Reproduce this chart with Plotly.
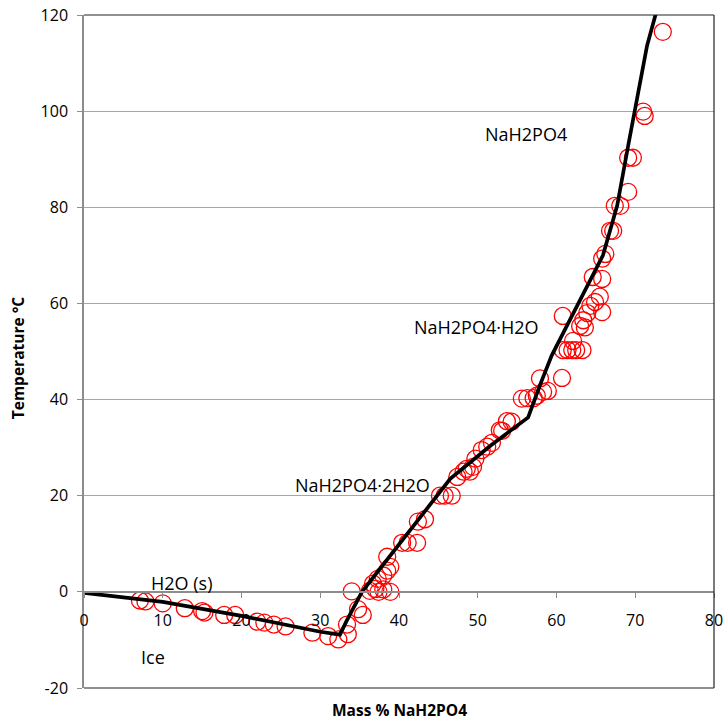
import plotly.graph_objects as go

# Measured solubility points (mass % NaH2PO4, temperature in °C)
mass_pct = [
    7.1, 7.8, 10.0, 12.8, 15.0, 15.3, 17.8, 19.2, 22.0, 22.9, 24.1, 25.6,
    29.0, 31.0, 32.3, 33.5, 33.4, 34.0, 34.8, 35.4,
    36.3, 37.0, 37.4, 38.0, 38.9, 36.7, 37.3, 38.0, 38.5, 38.9, 38.5,
    40.4, 41.1, 42.3, 42.4, 43.3,
    45.2, 45.8, 46.7, 47.4, 48.2, 48.6, 49.0, 49.4, 49.7,
    50.5, 51.2, 51.8, 52.8, 53.1, 53.7, 54.3,
    55.6, 56.3, 57.1, 57.5, 58.3, 58.9, 57.9, 60.7,
    60.8, 60.8, 61.4, 62.0, 62.5, 63.3, 62.1,
    63.0, 63.6, 63.4, 63.9, 64.3, 64.9, 65.8, 65.5,
    64.6, 65.8, 65.8, 66.2, 66.8, 67.2, 67.4, 68.1, 69.1,
    69.1, 69.7, 71.0, 71.2, 73.5,
]
temp_c = [
    -1.8, -2.0, -2.4, -3.4, -4.0, -4.3, -4.8, -4.8, -6.2, -6.4, -6.8, -7.2,
    -8.5, -9.2, -9.9, -8.8, -6.8, 0.1, -3.6, -4.8,
    0.2, 0.6, 0.0, 0.5, 0.0, 1.7, 2.7, 3.4, 4.4, 5.2, 7.3,
    10.2, 10.2, 10.2, 14.6, 15.1,
    20.0, 20.0, 20.0, 23.9, 25.0, 25.6, 25.0, 26.0, 27.7,
    29.5, 30.2, 31.0, 33.6, 33.5, 35.5, 35.4,
    40.2, 40.3, 40.3, 40.8, 41.6, 41.8, 44.4, 44.5,
    57.4, 50.3, 50.3, 50.3, 50.3, 50.3, 52.2,
    55.3, 55.0, 56.5, 58.0, 59.5, 60.3, 58.2, 61.4,
    65.5, 65.1, 69.3, 70.3, 75.1, 75.1, 80.3, 80.3, 83.2,
    90.3, 90.3, 99.9, 99.0, 116.5,
]

# Fitted phase boundary (liquidus)
curve_x = [0, 10, 20, 30, 32.5, 33.3, 35.3, 40.0, 46.5, 51.6, 56.4,
           57.9, 59.4, 65.9, 67.7, 69.1, 70.2, 71.5, 72.9]
curve_y = [-0.2, -2.1, -5.0, -8.3, -8.9, -6.2, 0.0, 9.9, 23.5, 30.4, 36.3,
           43.0, 49.2, 70.0, 80.3, 92.8, 102.6, 113.6, 122.0]

# Phase region labels
phase_labels = ["NaH2PO4", "NaH2PO4·H2O", "NaH2PO4·2H2O", "H2O (s)", "Ice"]
label_x = [56.1, 49.9, 35.4, 12.4, 8.8]
label_y = [95.2, 55.1, 22.3, 1.9, -13.5]

x_ticks = [0, 10, 20, 30, 40, 50, 60, 70, 80]
y_ticks = [-20, 0, 20, 40, 60, 80, 100, 120]
y_tick_text = ["-20", "0", "20", "40", "60", "80", "100", "120"]

FONT = "'Open Sans', Calibri, sans-serif"

fig = go.Figure()

fig.add_trace(go.Scatter(
    x=mass_pct, y=temp_c, mode="markers",
    marker=dict(symbol="circle-open", size=17, color="#ff0000",
                line=dict(width=1.3, color="#ff0000")),
    showlegend=False, hoverinfo="x+y",
))

fig.add_trace(go.Scatter(
    x=curve_x, y=curve_y, mode="lines",
    line=dict(color="#000000", width=3.7),
    showlegend=False,
))

for txt, lx, ly in zip(phase_labels, label_x, label_y):
    fig.add_annotation(x=lx, y=ly, xref="x", yref="y", text=txt,
                       showarrow=False, font=dict(family=FONT, size=18, color="#000000"))

# Axis titles
fig.add_annotation(x=0.5, y=0, xref="paper", yref="paper", yshift=-22,
                   yanchor="middle", text="<b>Mass % NaH2PO4</b>", showarrow=False,
                   font=dict(family=FONT, size=15.5, color="#000000"))
fig.add_annotation(x=0, y=0.49, xref="paper", yref="paper", xshift=-66,
                   xanchor="center", text="<b>Temperature °C</b>", showarrow=False,
                   textangle=-90,
                   font=dict(family=FONT, size=15.5, color="#000000"))

# Plot-area frame: top, right, bottom
for x0, y0, x1, y1 in [(0, 1, 1, 1), (1, 0, 1, 1), (0, 0, 1, 0)]:
    fig.add_shape(type="line", xref="paper", yref="paper", x0=x0, y0=y0, x1=x1, y1=y1,
                  line=dict(color="#222222", width=1.2), layer="above")

fig.update_layout(
    width=727, height=721,
    margin=dict(l=84, r=13, t=15, b=33),
    paper_bgcolor="white", plot_bgcolor="white",
    font=dict(family=FONT, size=15, color="#000000"),
    xaxis=dict(
        range=[0, 80], tickvals=x_ticks, anchor="free", automargin=False,
        position=20 / 140, showline=True, linecolor="#8c8c8c", linewidth=1.5,
        ticks="outside", ticklen=5, tickcolor="#8c8c8c", tickwidth=1.3,
        ticklabelstandoff=9,
        showgrid=False, zeroline=False, tickfont=dict(size=16),
    ),
    yaxis=dict(
        range=[-20, 120], tickvals=y_ticks, ticktext=y_tick_text, automargin=False,
        showline=True, linecolor="#8c8c8c", linewidth=1.5,
        ticks="outside", ticklen=5, tickcolor="#8c8c8c", tickwidth=1.3,
        ticklabelstandoff=6,
        showgrid=True, gridcolor="#a6a6a6", gridwidth=1.3,
        zeroline=False, tickfont=dict(size=16),
    ),
)

fig.write_html("out.html")
